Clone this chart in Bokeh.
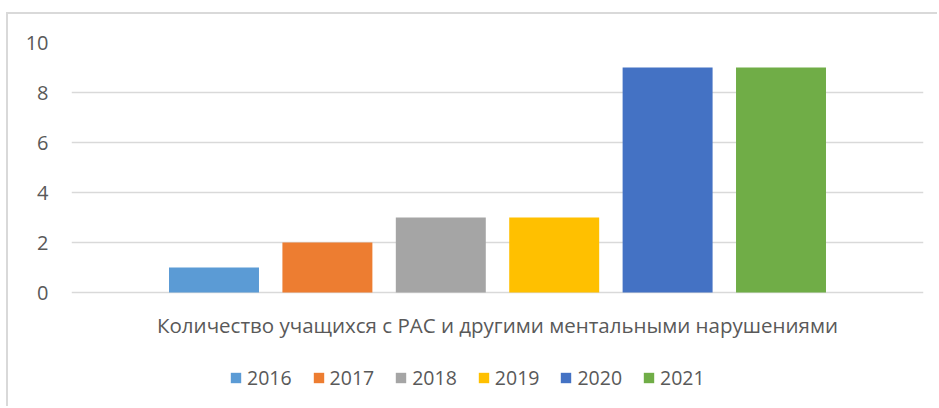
from bokeh.plotting import figure
from bokeh.models import FactorRange, Range1d, ColumnDataSource, Legend, LegendItem
from bokeh.core.properties import value
from bokeh.transform import dodge
from bokeh.embed import file_html
from bokeh.resources import INLINE

category = "Количество учащихся с РАС и другими ментальными нарушениями"
years = ["2016", "2017", "2018", "2019", "2020", "2021"]
values = [1, 2, 3, 3, 9, 9]
colors = ["#5B9BD5", "#ED7D31", "#A5A5A5", "#FFC000", "#4472C4", "#70AD47"]
y_ticks = [0, 2, 4, 6, 8, 10]

FONT = "Open Sans"
TXT = "#595959"

p = figure(
    width=931, height=394,
    x_range=FactorRange(factors=[category], range_padding=0),
    y_range=Range1d(-4.64, 10),
    output_backend="svg", toolbar_location=None,
    min_border_left=63, min_border_right=16, min_border_top=28, min_border_bottom=0,
    margin=(12, 0, 0, 6),
    styles={"border-top": "2px solid #D9D9D9", "border-left": "2px solid #D9D9D9"},
)
p.outline_line_color = None
p.background_fill_color = "white"
p.border_fill_color = "white"

step = 0.1331
bw = 0.1056
items = []
for i, (yr, v, c) in enumerate(zip(years, values, colors)):
    src = ColumnDataSource(dict(cat=[category], val=[v]))
    r = p.vbar(x=dodge("cat", (i - 2.5) * step, range=p.x_range), top="val", width=bw,
               source=src, fill_color=c, line_color=None)
    items.append(LegendItem(label=yr, renderers=[r]))

# category label (as the reference's horizontal axis label)
p.text(x=[category], y=[-1.3], text=[category], text_align="center", text_baseline="middle",
       text_font=value(FONT), text_font_size=value("20.5px"), text_color=TXT)

legend = Legend(items=items, orientation="horizontal", location=(158, 17),
                glyph_width=13, glyph_height=13, label_standoff=5, spacing=20,
                padding=0, margin=0, border_line_color=None, background_fill_alpha=0,
                label_text_font=FONT, label_text_font_size="19.5px", label_text_color=TXT,
                label_height=13)
p.add_layout(legend, "center")

p.yaxis.ticker = y_ticks
p.yaxis.axis_line_color = None
p.yaxis.major_tick_line_color = None
p.yaxis.major_tick_out = 0
p.yaxis.major_tick_in = 0
p.yaxis.minor_tick_line_color = None
p.yaxis.major_label_text_font = FONT
p.yaxis.major_label_text_font_size = "20px"
p.yaxis.major_label_text_color = TXT
p.yaxis.major_label_standoff = 23

p.xaxis.visible = False

p.xgrid.grid_line_color = None
p.ygrid.ticker = y_ticks
p.ygrid.grid_line_color = "#D9D9D9"
p.ygrid.grid_line_width = 1.5

open("out.html", "w").write(file_html(p, INLINE))
